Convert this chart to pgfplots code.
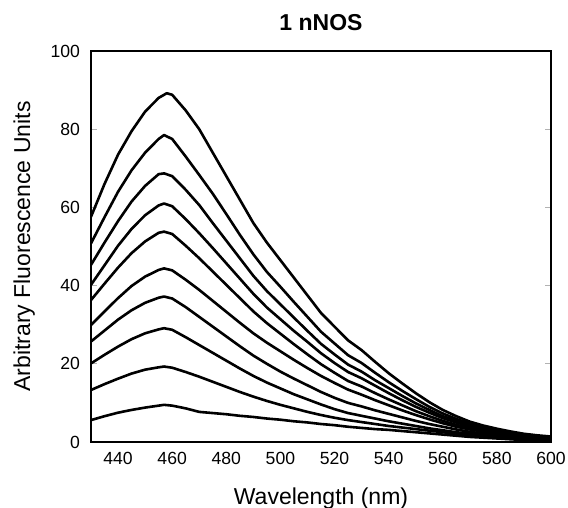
\documentclass[border=0pt]{standalone}
\usepackage{fontspec}
\setmainfont{Liberation Sans}
\usepackage{pgfplots}
\pgfplotsset{compat=1.18}
\usetikzlibrary{calc}

\begin{document}
\begin{tikzpicture}
\begin{axis}[
  scale only axis, width=230pt, height=195.5pt,
  xmin=430, xmax=600, ymin=0, ymax=100,
  xtick={440,460,...,600}, ytick={0,20,...,100},
  axis line style={line width=1pt},
  tick align=inside,
  xtick style={draw=none},
  ytick style={gray!60, line width=0.6pt},
  major tick length=3pt,
  /pgf/number format/assume math mode=true,
  tick label style={font=\fontsize{8.8}{10}\selectfont},
  yticklabel style={xshift=-2pt},
  xticklabel style={yshift=-1.5pt},
  title={\bfseries 1 nNOS},
  title style={font=\fontsize{11.5}{13}\selectfont, at={(axis description cs:0.5,1.043)}, anchor=center},
  xlabel={Wavelength (nm)},
  ylabel={Arbitrary Fluorescence Units},
  label style={font=\fontsize{11.5}{13}\selectfont},
  xlabel style={at={(axis description cs:0.5,-0.145)}, anchor=center},
  ylabel style={at={(axis description cs:-0.145,0.5)}, anchor=center},
  spec/.style={black, solid, line width=1.3pt, line join=round, mark=none},
]
% curve 1
\addplot[spec] coordinates {(430,57.6)(435,66)(440,73.5)(445,79.5)(450,84.5)(455,88)(458,89.2)(460,88.8)(465,84.8)(470,80)(475,74)(480,68)(485,62)(490,56)(495,51)(500,46.5)(505,42)(510,37.5)(515,33)(520,29.5)(525,26)(530,23.5)(535,20.5)(540,17.6)(545,15)(550,12.5)(555,10.2)(560,8.2)(565,6.6)(570,5.2)(575,4.2)(580,3.4)(585,2.7)(590,2.1)(595,1.7)(600,1.4)};
% curve 2
\addplot[spec] coordinates {(430,50.8)(435,57.5)(440,64)(445,69.5)(450,74)(455,77.5)(457,78.5)(460,77.5)(465,73)(470,68.3)(475,63.5)(480,58.3)(485,53)(490,48)(495,43.5)(500,39.7)(505,35.8)(510,32)(515,28.2)(520,25.2)(525,22.2)(530,20.2)(535,17.7)(540,15.3)(545,13.1)(550,11)(555,9)(560,7.3)(565,5.9)(570,4.7)(575,3.8)(580,3.1)(585,2.4)(590,1.9)(595,1.5)(600,1.2)};
% curve 3
\addplot[spec] coordinates {(430,45.3)(435,51)(440,56.5)(445,61.5)(450,65.5)(455,68.5)(457,68.7)(460,68)(465,64.5)(470,60.6)(475,56)(480,51.5)(485,47)(490,42.5)(495,38.6)(500,35.2)(505,31.8)(510,28.4)(515,25.1)(520,22.4)(525,19.8)(530,18)(535,15.8)(540,13.8)(545,11.8)(550,9.9)(555,8.2)(560,6.6)(565,5.4)(570,4.3)(575,3.5)(580,2.8)(585,2.2)(590,1.7)(595,1.3)(600,1.0)};
% curve 4
\addplot[spec] coordinates {(430,40.2)(435,45.2)(440,50.2)(445,54.5)(450,58)(455,60.5)(457,61)(460,60.3)(465,57)(470,53.4)(475,49.6)(480,45.7)(485,41.8)(490,37.9)(495,34.4)(500,31.4)(505,28.4)(510,25.6)(515,22.7)(520,20.2)(525,17.9)(530,16.3)(535,14.4)(540,12.5)(545,10.7)(550,9)(555,7.5)(560,6.1)(565,5)(570,4)(575,3.2)(580,2.6)(585,2.0)(590,1.6)(595,1.2)(600,0.9)};
% curve 5
\addplot[spec] coordinates {(430,36.3)(435,40.5)(440,44.6)(445,48.3)(450,51.3)(455,53.5)(457,53.8)(460,53.2)(465,50.2)(470,47)(475,43.6)(480,40.2)(485,36.8)(490,33.4)(495,30.4)(500,27.7)(505,25)(510,22.4)(515,19.9)(520,17.7)(525,15.6)(530,14.2)(535,12.5)(540,10.9)(545,9.4)(550,7.9)(555,6.6)(560,5.4)(565,4.4)(570,3.6)(575,2.9)(580,2.3)(585,1.8)(590,1.4)(595,1.1)(600,0.8)};
% curve 6
\addplot[spec] coordinates {(430,29.9)(435,33.4)(440,36.8)(445,39.9)(450,42.3)(455,44)(457,44.4)(460,43.9)(465,41.5)(470,38.9)(475,36.1)(480,33.3)(485,30.5)(490,27.8)(495,25.4)(500,23.2)(505,21)(510,18.9)(515,16.9)(520,15.1)(525,13.4)(530,12.1)(535,10.7)(540,9.4)(545,8.1)(550,6.9)(555,5.8)(560,4.8)(565,3.9)(570,3.2)(575,2.6)(580,2.1)(585,1.6)(590,1.3)(595,1)(600,0.7)};
% curve 7
\addplot[spec] coordinates {(430,25.7)(435,28.5)(440,31.3)(445,33.7)(450,35.6)(455,36.9)(457,37.2)(460,36.7)(465,34.5)(470,32)(475,29.5)(480,27)(485,24.5)(490,22.1)(495,20)(500,18)(505,16.2)(510,14.5)(515,12.8)(520,11.3)(525,10)(530,9.1)(535,8.1)(540,7.2)(545,6.3)(550,5.4)(555,4.6)(560,3.9)(565,3.2)(570,2.6)(575,2.1)(580,1.7)(585,1.3)(590,1)(595,0.8)(600,0.6)};
% curve 8
\addplot[spec] coordinates {(430,20.1)(435,22.3)(440,24.4)(445,26.3)(450,27.8)(455,28.8)(457,29.1)(460,28.7)(465,26.8)(470,24.8)(475,22.8)(480,20.8)(485,18.8)(490,16.9)(495,15.2)(500,13.7)(505,12.2)(510,10.9)(515,9.6)(520,8.4)(525,7.4)(530,6.7)(535,6)(540,5.3)(545,4.7)(550,4.1)(555,3.5)(560,3)(565,2.5)(570,2.1)(575,1.7)(580,1.4)(585,1.1)(590,0.8)(595,0.6)(600,0.5)};
% curve 9
\addplot[spec] coordinates {(430,13.3)(435,14.8)(440,16.2)(445,17.5)(450,18.5)(455,19.1)(457,19.3)(460,19)(465,17.9)(470,16.7)(475,15.4)(480,14.1)(485,12.8)(490,11.6)(495,10.5)(500,9.5)(505,8.6)(510,7.7)(515,6.9)(520,6.2)(525,5.6)(530,5.1)(535,4.6)(540,4.1)(545,3.7)(550,3.3)(555,2.9)(560,2.5)(565,2.1)(570,1.8)(575,1.5)(580,1.2)(585,1)(590,0.8)(595,0.6)(600,0.4)};
% curve 10
\addplot[spec] coordinates {(430,5.6)(435,6.6)(440,7.5)(445,8.2)(450,8.8)(455,9.3)(457,9.5)(460,9.3)(465,8.6)(470,7.7)(475,7.4)(480,7.1)(485,6.7)(490,6.4)(495,6.0)(500,5.7)(505,5.3)(510,5.0)(515,4.6)(520,4.3)(525,3.9)(530,3.6)(535,3.3)(540,3.1)(545,2.8)(550,2.5)(555,2.2)(560,1.9)(565,1.6)(570,1.3)(575,1.1)(580,0.9)(585,0.7)(590,0.5)(595,0.4)(600,0.3)};
\coordinate (ll) at (rel axis cs:0,0);
\coordinate (ur) at (rel axis cs:1,1);
\end{axis}
\pgfresetboundingbox
\useasboundingbox ($(ll)+(-45.5pt,-33pt)$) rectangle ($(ur)+(8.5pt,25.5pt)$);
\end{tikzpicture}
\end{document}
